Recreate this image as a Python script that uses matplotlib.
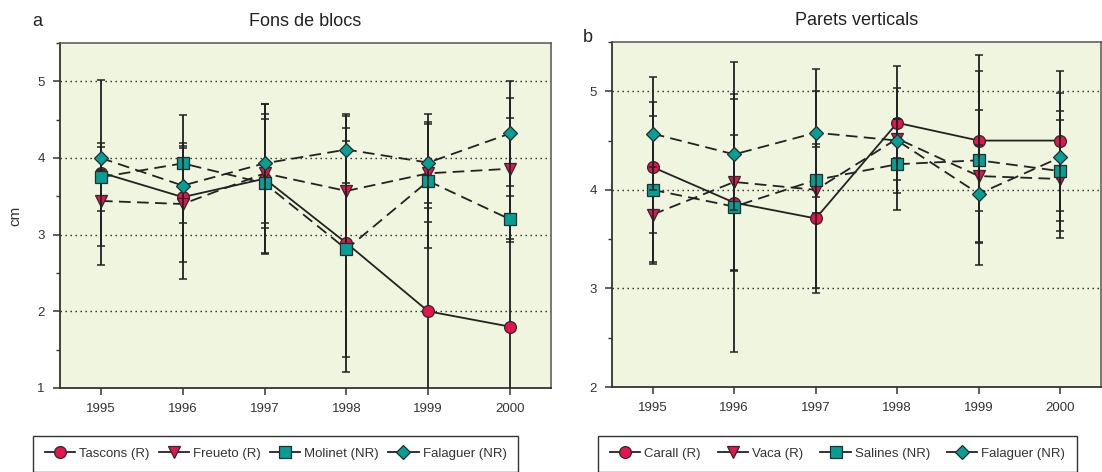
import matplotlib
matplotlib.use("Agg")
import matplotlib.pyplot as plt
from matplotlib.lines import Line2D
from matplotlib.ticker import MultipleLocator

plt.rcParams['font.family'] = ['Liberation Sans', 'DejaVu Sans']

years = [1995, 1996, 1997, 1998, 1999, 2000]

# Fons de blocs (panel a): mean and SD per locality
tascons = [3.81, 3.49, 3.73, 2.89, 2.00, 1.80]
tascons_sd = [1.21, 1.07, 0.98, 1.68, 1.35, 2.72]
freueto = [3.44, 3.40, 3.80, 3.57, 3.80, 3.86]
freueto_sd = [0.59, 0.76, 0.71, 0.82, 0.64, 0.92]
molinet = [3.75, 3.93, 3.67, 2.81, 3.70, 3.20]
molinet_sd = [0.44, 0.26, 0.91, 1.41, 0.87, 0.30]
falaguer_a = [4.00, 3.64, 3.93, 4.11, 3.94, 4.32]
falaguer_a_sd = [0.15, 0.49, 0.78, 0.44, 0.53, 0.68]

# Parets verticals (panel b)
carall = [4.23, 3.87, 3.71, 4.68, 4.50, 4.50]
carall_sd = [0.665, 0.69, 0.755, 0.58, 0.71, 0.71]
vaca = [3.75, 4.08, 4.00, 4.52, 4.14, 4.11]
vaca_sd = [0.48, 0.89, 1.00, 0.20, 0.675, 0.60]
salines = [4.00, 3.83, 4.10, 4.26, 4.30, 4.19]
salines_sd = [0.75, 1.47, 0.33, 0.46, 1.065, 0.605]
falaguer_b = [4.57, 4.36, 4.58, 4.50, 3.96, 4.33]
falaguer_b_sd = [0.57, 0.56, 0.65, 0.53, 0.49, 0.65]

RED = '#E8124F'
TEAL = '#00A096'
EDGE = '#2a2a2a'
INK = '#222222'
BG = '#EFF5DE'

# marker, size, colour, solid line?
STYLES = [('o', 8.5, RED, True), ('v', 8.5, RED, False),
          ('s', 8, TEAL, False), ('D', 7, TEAL, False)]


def draw_panel(ax, series, ylim, grid_vals):
    ax.set_facecolor(BG)
    for g in grid_vals:
        ax.axhline(g, color=INK, lw=1.0, ls=(0, (1, 2.6)), zorder=1)
    for i, (vals, sd) in enumerate(series):
        marker, ms, col, solid = STYLES[i]
        ls = '-' if solid else (0, (6.5, 3.5))
        ax.plot(years, vals, color=INK, lw=1.3, ls=ls, zorder=2)
        ax.errorbar(years, vals, yerr=sd, fmt='none', ecolor=INK,
                    elinewidth=1.3, capsize=3, capthick=1.1, zorder=3 + i)
        ax.plot(years, vals, ls='none', marker=marker, ms=ms, mfc=col,
                mec=EDGE, mew=0.9, zorder=3.5 + i)
    ax.set_xlim(1994.5, 2000.5)
    ax.set_ylim(*ylim)
    ax.set_xticks(years)
    ax.yaxis.set_major_locator(MultipleLocator(1))
    ax.yaxis.set_minor_locator(MultipleLocator(0.5))
    ax.tick_params(axis='both', which='major', direction='out', length=5,
                   width=1.1, color='#333333', labelsize=9.5,
                   labelcolor='#333333', pad=6)
    ax.tick_params(axis='y', which='minor', direction='out', length=3,
                   width=1.0, color='#333333')
    ax.tick_params(axis='x', which='minor', length=0)
    for side in ['left', 'bottom']:
        ax.spines[side].set_color('#333333')
        ax.spines[side].set_linewidth(1.3)
    for side in ['top', 'right']:
        ax.spines[side].set_color('#555555')
        ax.spines[side].set_linewidth(1.1)


def legend_handles():
    hs = []
    for marker, ms, col, solid in STYLES:
        hs.append(Line2D([], [], color=INK, lw=1.3, marker=marker, ms=ms,
                         mfc=col, mec=EDGE, mew=0.9))
    return hs


fig = plt.figure(figsize=(11.02, 4.72), dpi=100)
ax_a = fig.add_axes([60 / 1102, 84 / 472, 491 / 1102, 345 / 472])
ax_b = fig.add_axes([612 / 1102, 85 / 472, 489 / 1102, 345 / 472])

draw_panel(ax_a, [(tascons, tascons_sd), (freueto, freueto_sd),
                  (molinet, molinet_sd), (falaguer_a, falaguer_a_sd)],
           (1, 5.5), [2, 3, 4, 5])
draw_panel(ax_b, [(carall, carall_sd), (vaca, vaca_sd),
                  (salines, salines_sd), (falaguer_b, falaguer_b_sd)],
           (2, 5.5), [3, 4, 5])

ax_a.set_title('Fons de blocs', fontsize=13, color=INK, pad=12)
ax_b.set_title('Parets verticals', fontsize=13, color=INK, pad=12)
ax_a.set_ylabel('cm', fontsize=11, color='#333333', labelpad=11)

fig.text(37 / 1102, 1 - 22 / 472, 'a', fontsize=13, color=INK,
         ha='center', va='center')
fig.text(588 / 1102, 1 - 37 / 472, 'b', fontsize=13, color=INK,
         ha='center', va='center')

legend_kw = dict(ncol=4, loc='upper left', fontsize=9.5, frameon=True,
                 fancybox=False, edgecolor='#333333', facecolor='white',
                 framealpha=1, borderpad=0.9, borderaxespad=0,
                 handlelength=2.3, handletextpad=0.3, columnspacing=0.7)
leg_a = fig.legend(legend_handles(),
                   ['Tascons (R)', 'Freueto (R)', 'Molinet (NR)',
                    'Falaguer (NR)'],
                   bbox_to_anchor=(33 / 1102, 1 - 436 / 472), **legend_kw)
leg_a.get_frame().set_linewidth(1.0)
leg_b = fig.legend(legend_handles(),
                   ['Carall (R)', 'Vaca (R)', 'Salines (NR)',
                    'Falaguer (NR)'],
                   bbox_to_anchor=(598 / 1102, 1 - 436 / 472),
                   **{**legend_kw, 'columnspacing': 1.3})
leg_b.get_frame().set_linewidth(1.0)
for leg in (leg_a, leg_b):
    for t in leg.get_texts():
        t.set_color('#333333')

fig.savefig('out.png', dpi=100)
